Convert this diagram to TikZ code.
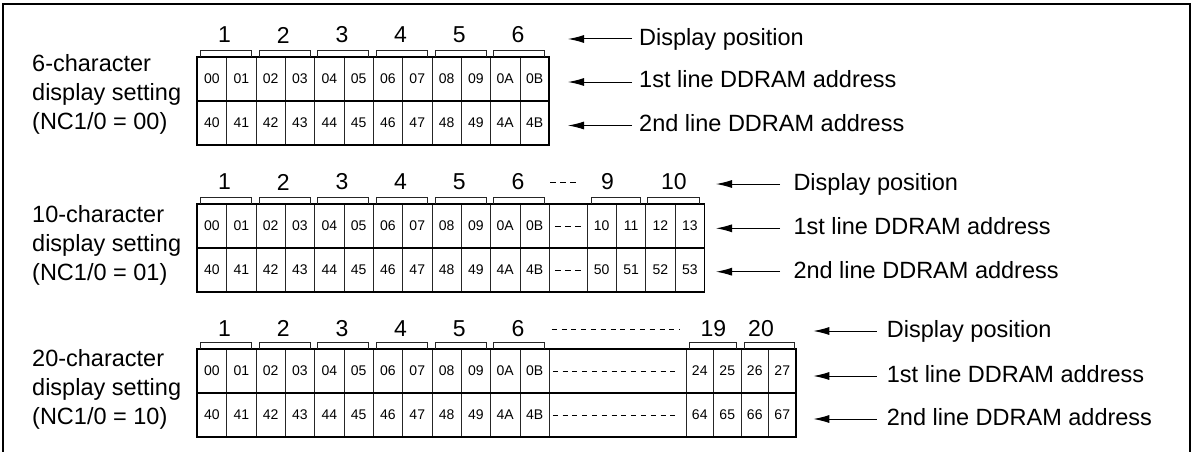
\documentclass[tikz,border=0pt]{standalone}
\usepackage{fontspec}
\setmainfont{Liberation Sans}
\usetikzlibrary{arrows.meta}
\begin{document}
\begin{tikzpicture}[x=1pt,y=-1pt,
 cellbox/.style={draw=black!85, line width=0.8pt, minimum width=29.33pt, minimum height=44pt, inner sep=0pt, outer sep=0pt, anchor=north west, font=\fontsize{14}{16}\selectfont},
 num/.style={inner sep=0pt, font=\fontsize{23}{27}\selectfont},
 lbl/.style={inner sep=0pt, anchor=base west, font=\fontsize{23.5}{28}\selectfont},
 setlbl/.style={inner sep=0pt, anchor=west, align=left, font=\fontsize{23.5}{29}\selectfont},
 outer/.style={line width=1.8pt},
 midline/.style={line width=1.3pt},
 brk/.style={line width=0.8pt, draw=black!85},
 arr/.style={line width=1pt, -{Latex[length=16pt,width=8pt]}},
 dashln/.style={line width=0.9pt, dash pattern=on 6pt off 4pt},
 dashlong/.style={line width=0.9pt, dash pattern=on 5pt off 4.8pt}]
\useasboundingbox (0,0) rectangle (1196,452);
% frame
\draw[line width=1.8pt] (2.7,452) -- (2.7,4) -- (1190,4) -- (1190,452);

% ================= group 1 =================
\node[setlbl] (s1) at (32,94) {6-character\\display setting\\(NC1/0 = 00)};
\foreach \t [count=\i from 0] in {00,01,02,03,04,05,06,07,08,09,0A,0B}
  \node[cellbox] (g1a\i) at ({197.3+\i*29.33},57) {\t};
\foreach \t [count=\i from 0] in {40,41,42,43,44,45,46,47,48,49,4A,4B}
  \node[cellbox] (g1b\i) at ({197.3+\i*29.33},101) {\t};
\draw[outer] (g1a0.north west) rectangle (g1b11.south east);
\draw[midline] (g1a0.south west) -- (g1a11.south east);
\foreach \n [count=\i from 0] in {1,...,6}{
  \pgfmathtruncatemacro{\l}{2*\i}\pgfmathtruncatemacro{\r}{2*\i+1}
  \node[num] (g1n\n) at ({197.3+(2*\i+1)*29.33-2},35) {\n};
  \draw[brk] ([xshift=3pt]g1a\l.north west) -- ++(0,-7) -| ([xshift=-4.5pt]g1a\r.north east);
}
\node[lbl] (g1d) at (639,46) {Display position};
\node[lbl] (g1f) at (639,88) {1st line DDRAM address};
\node[lbl] (g1s) at (639,131.5) {2nd line DDRAM address};
\coordinate (g1dt) at (568,39);
\coordinate (g1ft) at (568,82);
\coordinate (g1st) at (568,125.5);
\draw[arr] ([xshift=-7pt]g1d.base west |- g1dt) -- (g1dt);
\draw[arr] ([xshift=-7pt]g1f.base west |- g1ft) -- (g1ft);
\draw[arr] ([xshift=-7pt]g1s.base west |- g1st) -- (g1st);

% ================= group 2 =================
\node[setlbl] (s2) at (32,245) {10-character\\display setting\\(NC1/0 = 01)};
\foreach \t [count=\i from 0] in {00,01,02,03,04,05,06,07,08,09,0A,0B}
  \node[cellbox] (g2a\i) at ({197.3+\i*29.33},204) {\t};
\foreach \t [count=\i from 0] in {40,41,42,43,44,45,46,47,48,49,4A,4B}
  \node[cellbox] (g2b\i) at ({197.3+\i*29.33},248) {\t};
\node[cellbox, minimum width=37.7pt] (g2ad) at (549.3,204) {};
\node[cellbox, minimum width=37.7pt] (g2bd) at (549.3,248) {};
\foreach \t [count=\i from 12] in {10,11,12,13}
  \node[cellbox, minimum width=29.37pt] (g2a\i) at ({587+(\i-12)*29.37},204) {\t};
\foreach \t [count=\i from 12] in {50,51,52,53}
  \node[cellbox, minimum width=29.37pt] (g2b\i) at ({587+(\i-12)*29.37},248) {\t};
\draw[outer] (g2a0.north west) rectangle (g2b15.south east);
\draw[midline] (g2a0.south west) -- (g2a15.south east);
\draw[dashln] ([xshift=5.5pt]g2ad.west) -- ([xshift=-6pt]g2ad.east);
\draw[dashln] ([xshift=5.5pt]g2bd.west) -- ([xshift=-6pt]g2bd.east);
\foreach \n [count=\i from 0] in {1,...,6}{
  \pgfmathtruncatemacro{\l}{2*\i}\pgfmathtruncatemacro{\r}{2*\i+1}
  \node[num] (g2n\n) at ({197.3+(2*\i+1)*29.33-2},182) {\n};
  \draw[brk] ([xshift=3pt]g2a\l.north west) -- ++(0,-7) -| ([xshift=-4.5pt]g2a\r.north east);
}
\node[num] (g2n9) at (607.5,182) {9};
\node[num] (g2n10) at (673.8,182) {10};
\draw[brk] ([xshift=4pt]g2a12.north west) -- ++(0,-7) -| ([xshift=-5pt]g2a13.north east);
\draw[brk] ([xshift=2pt]g2a14.north west) -- ++(0,-7) -| ([xshift=-5pt]g2a15.north east);
\draw[dashln] (550,182) -- (576,182);
\node[lbl] (g2d) at (793.3,190.5) {Display position};
\node[lbl] (g2f) at (793.3,234.5) {1st line DDRAM address};
\node[lbl] (g2s) at (793.3,278) {2nd line DDRAM address};
\coordinate (g2dt) at (716,184);
\coordinate (g2ft) at (716,228.3);
\coordinate (g2st) at (716,271.7);
\draw[arr] ([xshift=-13.3pt]g2d.base west |- g2dt) -- (g2dt);
\draw[arr] ([xshift=-13.3pt]g2f.base west |- g2ft) -- (g2ft);
\draw[arr] ([xshift=-13.3pt]g2s.base west |- g2st) -- (g2st);

% ================= group 3 =================
\node[setlbl] (s3) at (32,389) {20-character\\display setting\\(NC1/0 = 10)};
\foreach \t [count=\i from 0] in {00,01,02,03,04,05,06,07,08,09,0A,0B}
  \node[cellbox] (g3a\i) at ({197.3+\i*29.33},349) {\t};
\foreach \t [count=\i from 0] in {40,41,42,43,44,45,46,47,48,49,4A,4B}
  \node[cellbox] (g3b\i) at ({197.3+\i*29.33},393) {\t};
\node[cellbox, minimum width=136.7pt] (g3ad) at (549.3,349) {};
\node[cellbox, minimum width=136.7pt] (g3bd) at (549.3,393) {};
\foreach \t [count=\i from 12] in {24,25,26,27}
  \node[cellbox, minimum width=27.5pt] (g3a\i) at ({686+(\i-12)*27.5},349) {\t};
\foreach \t [count=\i from 12] in {64,65,66,67}
  \node[cellbox, minimum width=27.5pt] (g3b\i) at ({686+(\i-12)*27.5},393) {\t};
\draw[outer] (g3a0.north west) rectangle (g3b15.south east);
\draw[midline] (g3a0.south west) -- (g3a15.south east);
\draw[dashlong] ([xshift=3.5pt]g3ad.west) -- ([xshift=-6pt]g3ad.east);
\draw[dashlong] ([xshift=3.5pt]g3bd.west) -- ([xshift=-6pt]g3bd.east);
\foreach \n [count=\i from 0] in {1,...,6}{
  \pgfmathtruncatemacro{\l}{2*\i}\pgfmathtruncatemacro{\r}{2*\i+1}
  \node[num] (g3n\n) at ({197.3+(2*\i+1)*29.33-2},328.5) {\n};
  \draw[brk] ([xshift=3pt]g3a\l.north west) -- ++(0,-7) -| ([xshift=-4.5pt]g3a\r.north east);
}
\node[num] (g3n19) at (713.3,328.5) {19};
\node[num] (g3n20) at (761,328.5) {20};
\draw[brk] ([xshift=3pt]g3a12.north west) -- ++(0,-7) -| ([xshift=-4.5pt]g3a13.north east);
\draw[brk] ([xshift=3pt]g3a14.north west) -- ++(0,-7) -| ([xshift=-2pt]g3a15.north east);
\draw[dashlong] (551.7,329) -- (680,329);
\node[lbl] (g3d) at (886.7,337.5) {Display position};
\node[lbl] (g3f) at (886.7,382) {1st line DDRAM address};
\node[lbl] (g3s) at (886.7,425) {2nd line DDRAM address};
\coordinate (g3dt) at (813.3,331);
\coordinate (g3ft) at (813.3,376);
\coordinate (g3st) at (813.3,419);
\draw[arr] ([xshift=-10pt]g3d.base west |- g3dt) -- (g3dt);
\draw[arr] ([xshift=-10pt]g3f.base west |- g3ft) -- (g3ft);
\draw[arr] ([xshift=-10pt]g3s.base west |- g3st) -- (g3st);
\end{tikzpicture}
\end{document}
